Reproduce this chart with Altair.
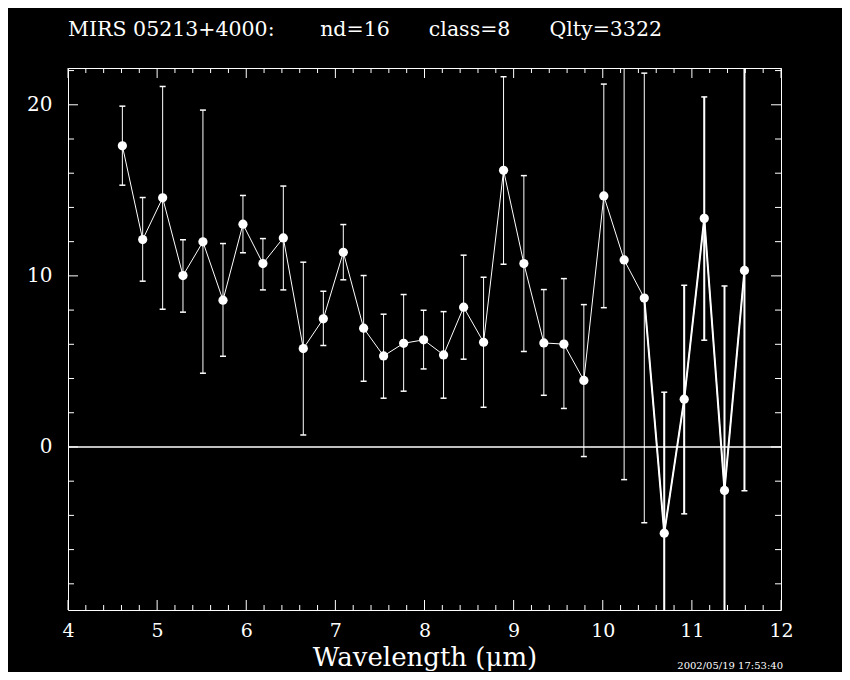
import altair as alt
import pandas as pd
import numpy as np

# ---------------- data ----------------
wavelength = [4.61, 4.838, 5.062, 5.29, 5.514, 5.739, 5.963, 6.187, 6.416, 6.64,
              6.865, 7.089, 7.317, 7.541, 7.766, 7.99, 8.214, 8.439, 8.663, 8.887,
              9.115, 9.339, 9.564, 9.788, 10.012, 10.24, 10.466, 10.69, 10.914, 11.139,
              11.366, 11.59]
flux = [17.60, 12.12, 14.56, 10.02, 11.99, 8.58, 13.02, 10.72, 12.22, 5.75,
        7.49, 11.38, 6.94, 5.32, 6.06, 6.26, 5.38, 8.17, 6.12, 16.17,
        10.72, 6.08, 6.01, 3.89, 14.67, 10.93, 8.70, -5.04, 2.79, 13.36,
        -2.54, 10.32]
flux_hi = [19.92, 14.58, 21.07, 12.11, 19.69, 11.89, 14.70, 12.18, 15.25, 10.80,
           9.10, 13.00, 10.02, 7.76, 8.91, 7.99, 7.91, 11.21, 9.92, 21.64,
           15.86, 9.20, 9.84, 8.32, 21.21, 23.77, 21.85, 3.20, 9.45, 20.46,
           9.41, 23.20]
flux_lo = [15.30, 9.69, 8.05, 7.88, 4.31, 5.30, 11.35, 9.18, 9.18, 0.70,
           5.93, 9.77, 3.84, 2.85, 3.26, 4.56, 2.85, 5.13, 2.32, 10.68,
           5.58, 3.02, 2.25, -0.56, 8.14, -1.91, -4.43, -13.28, -3.91, 6.24,
           -14.49, -2.56]

x_labels = [4, 5, 6, 7, 8, 9, 10, 11, 12]
y_labels = [0, 10, 20]
x_minor = [round(v, 1) for v in np.arange(4.2, 12.0, 0.2) if abs(v - round(v)) > 1e-6]
y_minor = [v for v in range(-8, 23, 2) if v % 10 != 0]

title_text = ("MIRS 05213+4000:" + "\u00a0" * 7 + "nd=16" + "\u00a0" * 6 +
              "class=8" + "\u00a0" * 6 + "Qlty=3322")
stamp = "2002/05/19 17:53:40"

X_DOMAIN = [4, 12]
Y_DOMAIN = [-9.53, 22.15]
W, H = 713, 542
FONT = "DejaVu Serif"

df = pd.DataFrame({"x": wavelength, "y": flux, "hi": flux_hi, "lo": flux_lo})

xs = alt.Scale(domain=X_DOMAIN, nice=False, zero=False)
ys = alt.Scale(domain=Y_DOMAIN, nice=False, zero=False)
xaxis = alt.Axis(values=x_labels, ticks=False, tickSize=0, domain=False, grid=False,
                 labelFont=FONT, labelFontSize=19, labelColor="white", labelPadding=11,
                 title="Wavelength (\u03bcm)", titleFont=FONT, titleFontSize=26,
                 titleFontWeight="normal", titleColor="white", titlePadding=4,
                 labelFlush=False)
yaxis = alt.Axis(values=y_labels, ticks=False, tickSize=0, domain=False, grid=False,
                 labelFont=FONT, labelFontSize=20, labelColor="white", labelPadding=16,
                 title=None)


def X(f):
    return alt.X(f, type="quantitative", scale=xs, axis=xaxis)


def Y(f):
    return alt.Y(f, type="quantitative", scale=ys, axis=yaxis)


base = alt.Chart(df)

line = base.mark_line(color="white", strokeWidth=1, clip=True).encode(x=X("x"), y=Y("y"))
line_thick = base.transform_filter(alt.datum.x > 10.4).mark_line(
    color="white", strokeWidth=2, clip=True).encode(x=X("x"), y=Y("y"))
bars = base.mark_rule(color="white", strokeWidth=1, clip=True).encode(
    x=X("x"), y=Y("lo"), y2="hi")
bars_thick = base.transform_filter(alt.datum.x > 10.6).mark_rule(
    color="white", strokeWidth=2, clip=True).encode(x=X("x"), y=Y("lo"), y2="hi")
cap_hi = base.mark_tick(color="white", orient="horizontal", size=6, thickness=1.5,
                        clip=True, opacity=1).encode(x=X("x"), y=Y("hi"))
cap_lo = base.mark_tick(color="white", orient="horizontal", size=6, thickness=1.5,
                        clip=True, opacity=1).encode(x=X("x"), y=Y("lo"))
pts = base.mark_circle(color="white", size=85, opacity=1).encode(x=X("x"), y=Y("y"))

zero = alt.Chart(pd.DataFrame({"y": [0]})).mark_rule(
    color="white", strokeWidth=1.5).encode(y=Y("y"))


def xticks(vals, length, side):
    c = alt.Chart(pd.DataFrame({"x": vals})).mark_rule(color="white", strokeWidth=1)
    if side == "bottom":
        return c.encode(x=X("x"), y=alt.value(H), y2=alt.value(H - length))
    return c.encode(x=X("x"), y=alt.value(0), y2=alt.value(length))


def yticks(vals, length, side):
    c = alt.Chart(pd.DataFrame({"y": vals})).mark_rule(color="white", strokeWidth=1)
    if side == "left":
        return c.encode(y=Y("y"), x=alt.value(0), x2=alt.value(length))
    return c.encode(y=Y("y"), x=alt.value(W), x2=alt.value(W - length))


tick_layers = [
    xticks(x_labels, 10, "bottom"), xticks(x_minor, 5, "bottom"),
    xticks(x_labels, 10, "top"), xticks(x_minor, 5, "top"),
    yticks(y_labels, 10, "left"), yticks(y_minor, 6, "left"),
    yticks(y_labels, 10, "right"), yticks(y_minor, 6, "right"),
]

stamp_layer = alt.Chart(pd.DataFrame({"t": [stamp]})).mark_text(
    color="white", font=FONT, fontSize=10, align="right", baseline="top").encode(
    text="t:N", x=alt.value(W + 2), y=alt.value(H + 51))

chart = alt.layer(
    *tick_layers, zero, bars, bars_thick, cap_hi, cap_lo, line, line_thick, pts, stamp_layer
).properties(
    width=W, height=H,
    title=alt.Title(title_text, anchor="start", frame="group", font=FONT, fontSize=20.5,
                    fontWeight="normal", color="white", baseline="alphabetic", offset=11),
    padding={"left": 60, "top": 60, "right": 61, "bottom": 62},
    autosize=alt.AutoSizeParams(type="none"),
    background="black",
).configure_view(stroke="white", strokeWidth=1)

chart.save("out.html", embed_options={"renderer": "svg", "actions": False})
